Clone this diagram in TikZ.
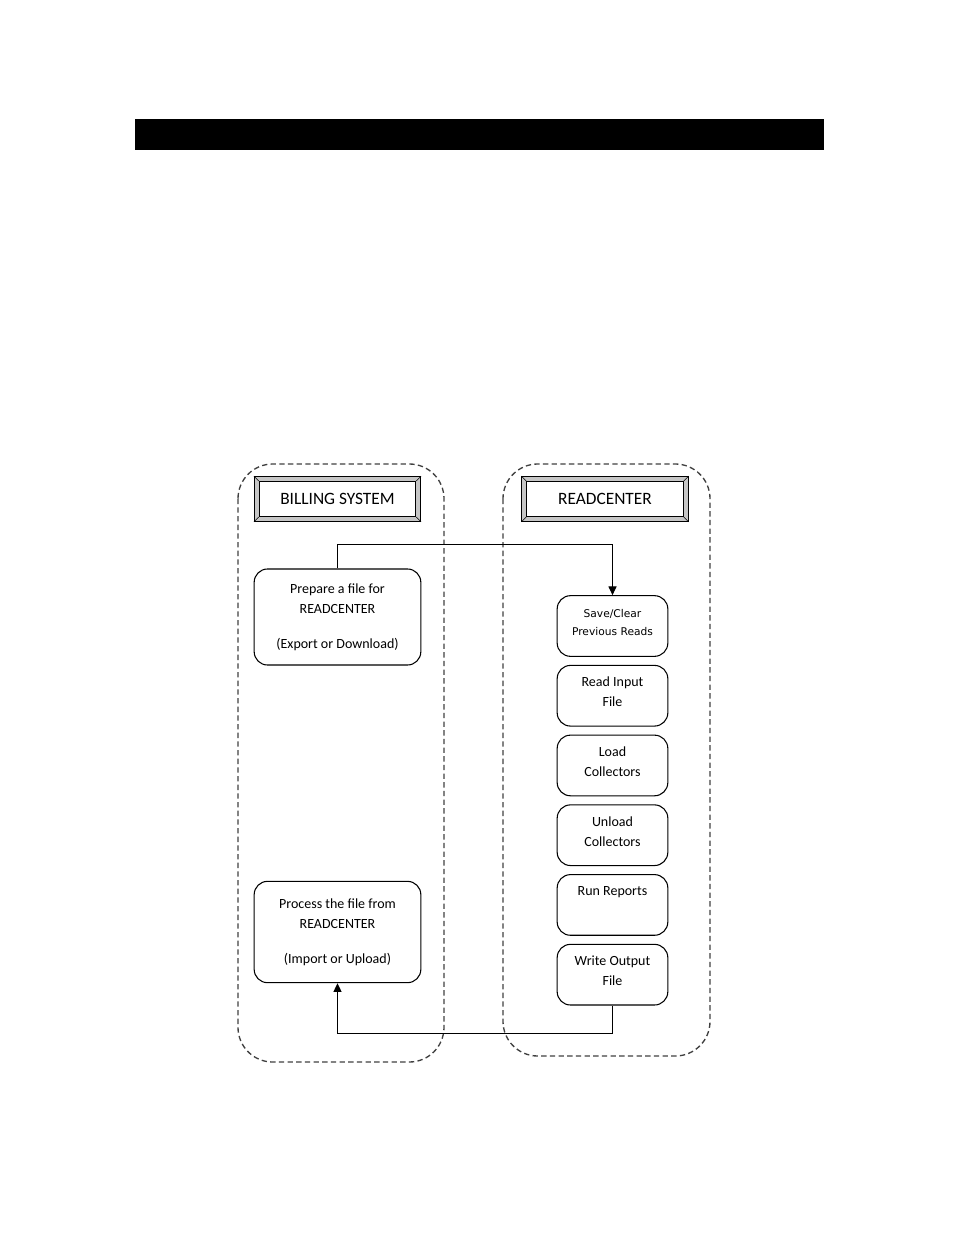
\documentclass[tikz,border=0pt]{standalone}
\usepackage{fontspec}
\setmainfont{Carlito}
\newfontfamily\smallsans{DejaVu Sans}
\usetikzlibrary{arrows.meta,positioning,calc}
\tikzset{
    lane/.style={draw=black!75, dash pattern=on 4pt off 2.5pt, line width=1pt,
                 rounded corners=26pt},
    hdr/.style={rectangle, draw, double=gray!45, double distance=3pt, line width=0.75pt,
                minimum width=121pt, minimum height=30pt, inner sep=0pt,
                font=\fontsize{13}{15}\selectfont},
    stp/.style={rectangle, draw, rounded corners=10pt, line width=0.8pt,
                minimum width=83pt, minimum height=45.5pt, inner sep=0pt, align=center,
                font=\fontsize{10.5}{15}\selectfont},
    rstp/.style={stp, text depth=6pt},
    bigstp/.style={stp, minimum width=125pt},
    arr/.style={-{Triangle[length=6.5pt,width=6pt]}, line width=0.75pt},
}

\begin{document}
\begin{tikzpicture}[x=0.75pt,y=-0.75pt,node distance=6pt]
    \useasboundingbox (0,0) rectangle (954,1235);
    \fill (135,119) rectangle (824,150);

    % swim lanes
    \draw[lane] (238,464) rectangle (444,1062);
    \draw[lane] (503,464) rectangle (710,1056);

    \node[hdr] (bsys) at (337.5,499) {BILLING SYSTEM};
    \node[hdr] (rcen) at (605,499)   {READCENTER};
    \foreach \t in {bsys,rcen}
      \foreach \c/\sx/\sy in {north west/-1/1,north east/1/1,south west/-1/-1,south east/1/-1}
        \draw[line width=0.4pt] ($(\t.\c)+(\sx*1.8pt,\sy*1.8pt)$) -- ($(\t.\c)+(-\sx*1.8pt,-\sy*1.8pt)$);

    % billing side
    \node[bigstp, minimum height=72pt] (prep) at (337.5,617)
        {Prepare a file for\\READCENTER\\[11pt](Export or Download)};
    \node[bigstp, minimum height=76pt] (proc) at (337.5,932)
        {Process the file from\\READCENTER\\[11pt](Import or Upload)};

    % readcenter side
    \node[rstp, font=\smallsans\fontsize{8}{13.5}\selectfont] (save) at (612.5,626)
        {Save/Clear\\Previous Reads};
    \node[rstp, below=of save]   (rin)  {Read Input\\File};
    \node[rstp, below=of rin]    (ldc)  {Load\\Collectors};
    \node[rstp, below=of ldc]    (ulc)  {Unload\\Collectors};
    \node[rstp, below=of ulc]    (rpt)  {Run Reports\\~};
    \node[rstp, below=of rpt]    (wout) {Write Output\\File};

    \draw[arr] (prep.north) -- ++(0,-24) -| (save.north);
    \draw[arr] (wout.south) -- ++(0,28) -| (proc.south);
\end{tikzpicture}
\end{document}
